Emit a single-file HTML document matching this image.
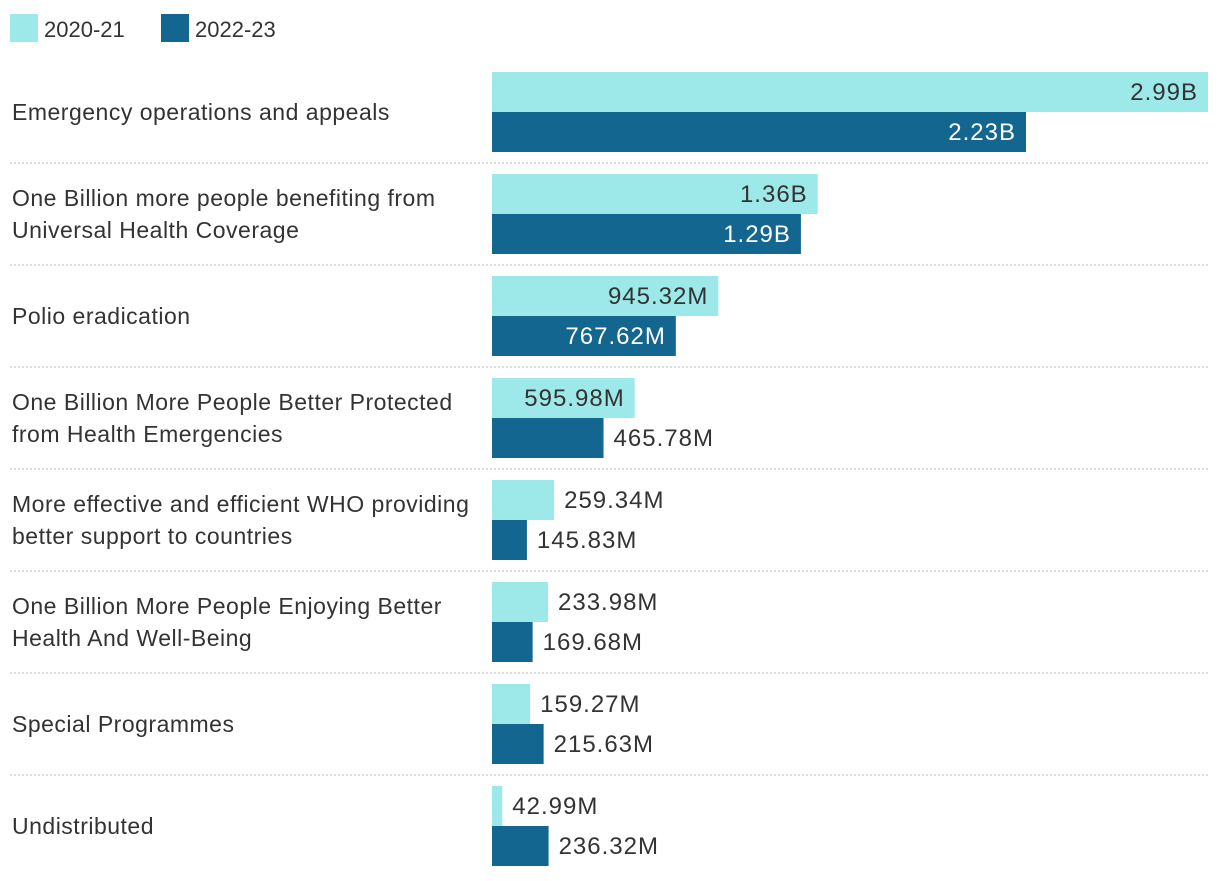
<!DOCTYPE html>
<html><head><meta charset="utf-8">
<style>
body{margin:0;background:#fff;width:1220px;height:876px;overflow:hidden;font-family:"Liberation Sans",sans-serif;}
svg text{font-family:"Liberation Sans",sans-serif;}
</style></head>
<body>
<svg id="chart" width="1220" height="876" xmlns="http://www.w3.org/2000/svg">
  <g>
    <rect x="10" y="14" width="28" height="28" fill="#9de8e8"/>
    <text x="44" y="37" font-size="22" fill="#333">2020-21</text>
    <rect x="161" y="14" width="28" height="28" fill="#136690"/>
    <text x="195" y="37" font-size="22" fill="#333">2022-23</text>
  </g>
</svg>
<script>
const categories = [
  ["Emergency operations and appeals"],
  ["One Billion more people benefiting from","Universal Health Coverage"],
  ["Polio eradication"],
  ["One Billion More People Better Protected","from Health Emergencies"],
  ["More effective and efficient WHO providing","better support to countries"],
  ["One Billion More People Enjoying Better","Health And Well-Being"],
  ["Special Programmes"],
  ["Undistributed"]
];
const values2021 = [2990, 1360, 945.32, 595.98, 259.34, 233.98, 159.27, 42.99];
const values2223 = [2230, 1290, 767.62, 465.78, 145.83, 169.68, 215.63, 236.32];
const labels2021 = ["2.99B","1.36B","945.32M","595.98M","259.34M","233.98M","159.27M","42.99M"];
const labels2223 = ["2.23B","1.29B","767.62M","465.78M","145.83M","169.68M","215.63M","236.32M"];

const svg = document.getElementById('chart');
const NS = 'http://www.w3.org/2000/svg';
const x0 = 492, x1 = 1208;
const maxV = Math.max(...values2021, ...values2223);
const xScale = v => (v / maxV) * (x1 - x0);
const rowTop = i => 72 + 102 * i;
const barH = 40;

function mk(tag, attrs){ const e = document.createElementNS(NS, tag); for (const k in attrs) e.setAttribute(k, attrs[k]); svg.appendChild(e); return e; }

categories.forEach((lines, i) => {
  const top = rowTop(i);
  const cy = top + barH;
  const lh = 32;
  const startY = cy + 8 - (lines.length - 1) * lh / 2;
  lines.forEach((ln, j) => {
    const t = mk('text', {x: 12, y: startY + j * lh, 'font-size': 23, 'letter-spacing': 0.5, fill: '#333'});
    
    
    t.textContent = ln;
  });
  [[values2021, labels2021, '#9de8e8', '#333', 'bar-2020-21'], [values2223, labels2223, '#136690', '#fff', 'bar-2022-23']].forEach(([vals, labs, col, inCol, nm], k) => {
    const w = xScale(vals[i]);
    const y = top + k * barH;
    const r = mk('rect', {x: x0, y: y, width: w, height: barH, fill: col});
    
    
    const t = mk('text', {'font-size': 24, 'letter-spacing': 1, y: y + 28});
    t.textContent = labs[i];
    const tw = t.getComputedTextLength();
    if (w > tw + 30) { t.setAttribute('x', x0 + w - 10); t.setAttribute('text-anchor', 'end'); t.setAttribute('fill', inCol); }
    else { t.setAttribute('x', x0 + w + 10); t.setAttribute('fill', '#333'); }
    
    
  });
  if (i < categories.length - 1) {
    const l = mk('line', {x1: 10, x2: 1208, y1: top + 91, y2: top + 91, stroke: '#bbb', 'stroke-width': 1, 'stroke-dasharray': '2,2'});
    
    
  }
});
</script>
</body></html>
